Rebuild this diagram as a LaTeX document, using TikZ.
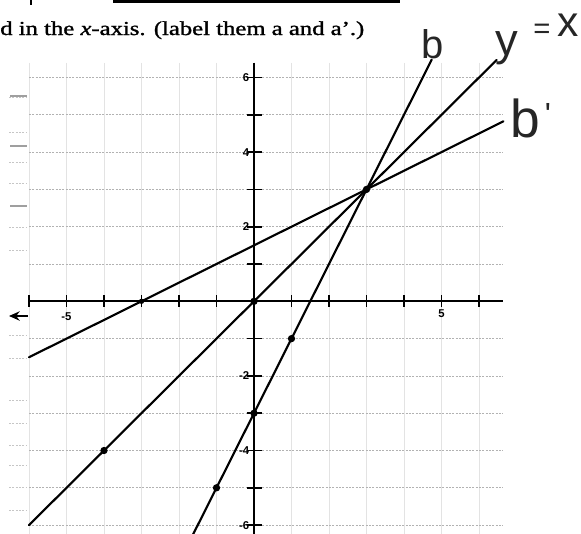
\documentclass[tikz,border=0pt]{standalone}
\usepackage{fontspec}
\setmainfont{Liberation Serif}
\newfontfamily\titlefont[FakeBold=1.2]{Liberation Serif}
\newfontfamily\handfont{Liberation Sans}
\newfontfamily\tickfont{Liberation Sans}
\usetikzlibrary{arrows.meta}
\tikzset{
  gridh/.style={draw=gray!60, line width=0.5pt, dash pattern=on 1.6pt off 0.9pt},
  gridv/.style={draw=gray!22, line width=0.4pt},
  axisline/.style={draw=black, line width=1.7pt},
  graphline/.style={draw=black, line width=1.6pt, line cap=round},
  tickmark/.style={draw=black, line width=1.2pt},
  ticklab/.style={font=\tickfont\bfseries\fontsize{8.5}{9}\selectfont, inner sep=0pt},
  dotmark/.style={circle, fill=black, inner sep=0pt, minimum size=5.5pt},
  handlab/.style={inner sep=0pt, text=black!85},
  noise/.style={draw=gray!45, line width=0.6pt, dash pattern=on 1.5pt off 1pt},
  noisedark/.style={draw=gray!75, line width=1.2pt},
}
\begin{document}
\begin{tikzpicture}[x=0.75pt,y=-0.75pt]
\useasboundingbox (0,0) rectangle (581,533);
\begin{scope}
\clip (0,0) rectangle (581,533);
% top fragments
\coordinate (ulA) at (113,1.5);
\coordinate (ulB) at (400,1.5);
\draw[line width=1.8pt] (ulA) -- (ulB);
\coordinate (pA) at (31,-1);
\coordinate (pB) at (31,5);
\draw[line width=1.4pt] (pA) -- (pB);
\node[anchor=base west, inner sep=0pt] (title) at (0,35)
  {\resizebox{273pt}{10.3pt}{\titlefont\fontsize{15}{17}\selectfont d in the \textit{x}-axis. (label them a and a’.)}};

% left scan noise
\foreach \yy in {97,132,162,183,227,250,335,358,400,423,445,465,487,510}
  {\draw[noise] (9,\yy) -- (27,\yy);}
\foreach \yy in {96,146,206}
  {\draw[noisedark] (10,\yy) -- (27,\yy);}

% arrow fragment at left
\coordinate (arA) at (28,316);
\coordinate (arB) at (9,316);
\draw[line width=2pt, -{Stealth[length=8pt,width=7pt]}] (arA) -- (arB);

\begin{scope}[shift={(254,301.3)}, x=28.125pt, y=27.975pt]
  % grid
  \foreach \g in {-6,-5,-4,-3,-2,-1,1,2,3,4,5,6}
    {\draw[gridv] (\g,6.4) -- (\g,-6.4);}
  \foreach \g in {-6,-5,-4,-3,-2,-1,1,2,3,4,5,6}
    {\draw[gridh] (-6,\g) -- (6.65,\g);}
  % axes
  \coordinate (xL) at (-6,0);
  \coordinate (xR) at (6.65,0);
  \coordinate (yT) at (0,6.4);
  \coordinate (yB) at (0,-6.4);
  \draw[axisline] (xL) -- (xR);
  \draw[axisline] (yT) -- (yB);
  % ticks
  \foreach \g in {-6,-5,-4,-3,-2,-1,1,2,3,4,5,6}
    {\draw[tickmark] (\g,0.16) -- (\g,-0.16);
     \draw[tickmark] (-0.2,\g) -- (0.2,\g);}
  % tick labels
  \node[ticklab, anchor=east] (l6) at (-0.12,6) {6};
  \node[ticklab, anchor=east] (l4) at (-0.12,4) {4};
  \node[ticklab, anchor=east] (l2) at (-0.12,2) {2};
  \node[ticklab, anchor=east] (lm2) at (-0.12,-2) {-2};
  \node[ticklab, anchor=east] (lm4) at (-0.12,-4) {-4};
  \node[ticklab, anchor=east] (lm6) at (-0.12,-6) {-6};
  \node[ticklab] (lxm5) at (-5,-0.42) {-5};
  \node[ticklab] (lx5) at (5,-0.33) {5};
  % lines
  \coordinate (idA) at (-6,-6);
  \coordinate (idB) at (6.47,6.47);
  \draw[graphline] (idA) -- (idB);
  \coordinate (bA) at (-1.65,-6.3);
  \coordinate (bB) at (4.74,6.48);
  \draw[graphline] (bA) -- (bB);
  \coordinate (bpA) at (-6,-1.5);
  \coordinate (bpB) at (6.65,4.825);
  \draw[graphline] (bpA) -- (bpB);
  % dots
  \node[dotmark] (d0) at (0,0) {};
  \node[dotmark] (d33) at (3,3) {};
  \node[dotmark] (dm4) at (-4,-4) {};
  \node[dotmark] (dm3) at (0,-3) {};
  \node[dotmark] (d1m1) at (1,-1) {};
  \node[dotmark] (dm1m5) at (-1,-5) {};
  \node[dotmark, minimum size=4pt] (dm30) at (-3,0) {};
\end{scope}
\end{scope}

% handwritten labels
\node[handlab, font=\handfont\fontsize{30}{30}\selectfont, anchor=base] (hb) at (433,58) {b};
\node[handlab, font=\handfont\fontsize{34}{34}\selectfont, anchor=base] (hy) at (507,55) {y};
\node[handlab, font=\handfont\fontsize{22}{22}\selectfont, anchor=base] (heq) at (542,38) {=};
\node[handlab, font=\handfont\fontsize{32}{32}\selectfont, anchor=base] (hx) at (568,36) {x};
\node[handlab, font=\handfont\fontsize{40}{40}\selectfont, anchor=base] (hbp) at (525,137) {b};
\node[handlab, font=\handfont\fontsize{24}{24}\selectfont, anchor=base] (hpr) at (548,125) {'};
\end{tikzpicture}
\end{document}
